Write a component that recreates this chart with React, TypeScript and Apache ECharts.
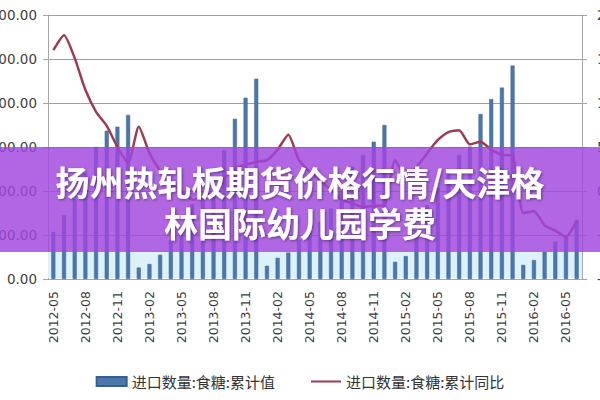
import React, { useEffect, useRef } from "react";
import * as echarts from "echarts";

const months = [
  "2012-05","2012-06","2012-07","2012-08","2012-09","2012-10","2012-11","2012-12",
  "2013-01","2013-02","2013-03","2013-04","2013-05","2013-06","2013-07","2013-08","2013-09","2013-10","2013-11","2013-12",
  "2014-01","2014-02","2014-03","2014-04","2014-05","2014-06","2014-07","2014-08","2014-09","2014-10","2014-11","2014-12",
  "2015-01","2015-02","2015-03","2015-04","2015-05","2015-06","2015-07","2015-08","2015-09","2015-10","2015-11","2015-12",
  "2016-01","2016-02","2016-03","2016-04","2016-05","2016-06",
];

const cumulativeValue = [
  107, 145, 182, 240, 300, 337, 346, 373,
  26, 34, 55, 89, 110, 170, 185, 200, 293, 364, 412, 455,
  30, 48, 60, 89, 110, 130, 160, 200, 255, 282, 312, 350,
  39, 52, 111, 168, 207, 248, 282, 301, 375, 409, 435, 485,
  32, 43, 62, 85, 96, 134,
];

const cumulativeYoY = [
  160, 177, 151, 115, 90, 74, 50, 32,
  73, 43, 23, 9, 0, -10, -7, -1, 15, 26, 30, 33,
  35, 47, 64, 35, 22, 12, 1, -10, -14, -18, -17, -16,
  35, 16, 27, 43, 58, 67, 69, 53, 56, 47, 41, 40,
  -25, -23, -39, -45, -52, -34,
];

const seriesNames = ["进口数量:食糖:累计值", "进口数量:食糖:累计同比"];
const titleLines = ["扬州热轧板期货价格行情/天津格", "林国际幼儿园学费"];

export default function App() {
  const ref = useRef<HTMLDivElement>(null);
  useEffect(() => {
    if (!ref.current) return;
    const chart = echarts.init(ref.current, null, { renderer: "svg" });
    const axisGrey = "#a6a6a6";
    chart.setOption({
      animation: false,
      backgroundColor: "#ffffff",
      grid: {
        left: 48,
        right: 18,
        top: 15,
        bottom: 121,
        containLabel: false,
        outerBoundsMode: "none",
      },
      legend: {
        left: "center",
        top: 369,
        itemWidth: 30,
        itemHeight: 9,
        itemGap: 35,
        textStyle: { fontFamily: "Noto Sans CJK SC", fontSize: 15, color: "#333" },
        data: [
          { name: seriesNames[0], icon: "rect" },
          { name: seriesNames[1], itemStyle: { opacity: 0 }, lineStyle: { width: 2 } },
        ],
      },
      xAxis: {
        type: "category",
        data: months,
        boundaryGap: true,
        axisLine: { lineStyle: { color: axisGrey } },
        axisTick: { interval: 2, length: 5, lineStyle: { color: axisGrey } },
        axisLabel: {
          interval: 2,
          rotate: 90,
          fontFamily: "DejaVu Sans",
          fontSize: 12.5,
          color: "#404040",
          margin: 12,
        },
      },
      yAxis: [
        {
          type: "value",
          min: 0,
          max: 600,
          interval: 100,
          axisLine: { show: true, lineStyle: { color: axisGrey } },
          axisTick: { show: true, length: 5, lineStyle: { color: axisGrey } },
          splitLine: { lineStyle: { color: "#a0a0a0", width: 1 } },
          axisLabel: {
            formatter: (v: number) => v.toFixed(2),
            fontFamily: "DejaVu Sans",
            fontSize: 13.5,
            color: "#404040",
            margin: 11,
          },
        },
        {
          type: "value",
          min: -100,
          max: 200,
          interval: 50,
          axisLine: { show: true, lineStyle: { color: axisGrey } },
          axisTick: { show: true, length: 5, lineStyle: { color: axisGrey } },
          splitLine: { show: false },
          axisLabel: {
            formatter: (v: number) => v.toFixed(2),
            fontFamily: "DejaVu Sans",
            fontSize: 13.5,
            color: "#404040",
            margin: 15,
          },
        },
      ],
      series: [
        {
          name: seriesNames[0],
          type: "bar",
          data: cumulativeValue,
          barWidth: 4,
          itemStyle: { color: "#4a78ad", borderColor: "#3a5f8c", borderWidth: 0.5 },
          z: 3,
        },
        {
          name: seriesNames[1],
          type: "line",
          yAxisIndex: 1,
          data: cumulativeYoY,
          symbol: "none",
          smooth: 0.2,
          lineStyle: { color: "#9e3b50", width: 2.5 },
          itemStyle: { color: "#9e3b50" },
          z: 4,
        },
      ],
      graphic: [
        {
          type: "rect",
          z: 1,
          shape: { x: 48, y: 252, width: 534, height: 26 },
          style: { fill: "#dcf1f8" },
        },
        {
          type: "rect",
          z: 100,
          shape: { x: 0, y: 147, width: 600, height: 105 },
          style: { fill: "rgba(160, 70, 222, 0.82)" },
        },
        {
          type: "text",
          z: 101,
          x: 300,
          y: 201.5,
          style: {
            text: titleLines.join("\n"),
            fill: "#ffffff",
            font: "bold 34px 'Noto Sans CJK SC'",
            lineHeight: 41,
            align: "center",
            verticalAlign: "middle",
            textShadowColor: "rgba(0,0,0,0.45)",
            textShadowBlur: 3,
            textShadowOffsetX: 1,
            textShadowOffsetY: 1,
          },
        },
      ],
    });
    return () => chart.dispose();
  }, []);
  return (
    <div
      ref={ref}
      style={{ position: "fixed", left: 0, top: 0, width: 600, height: 400 }}
    />
  );
}
